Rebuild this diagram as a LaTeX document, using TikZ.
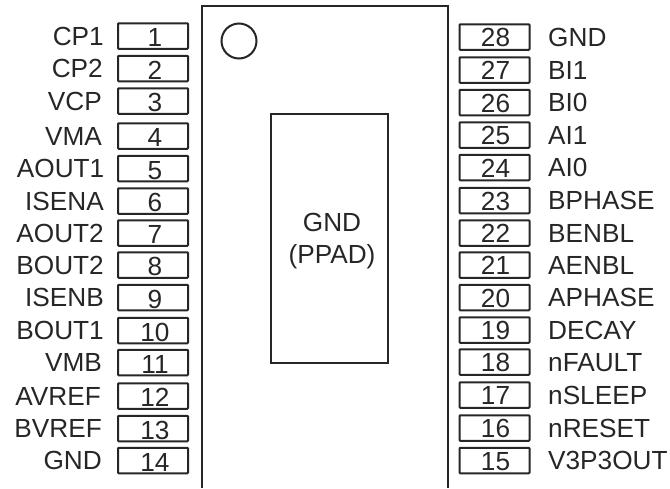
\documentclass[tikz,border=0pt]{standalone}
\usepackage{fontspec}
\setmainfont{Liberation Sans}
\usepackage{tikz}
\usetikzlibrary{positioning}

\begin{document}
\begin{tikzpicture}[
		x=1pt, y=-1pt,
		every node/.style={font=\fontsize{26.2}{28}\selectfont, text=black!85, text height=18.4pt, text depth=0pt, inner sep=0pt},
		pinbox/.style={draw=black!85, line width=2pt, rounded corners=0.8pt, minimum width=70pt, minimum height=25.5pt},
		pinleft/.style={pinbox, text height=21.4pt, execute at begin node=\hspace{4pt}},
		pinright/.style={pinbox, text height=19.6pt, execute at begin node=\hspace{2pt}},
		leftlabel/.style={anchor=east},
		rightlabel/.style={anchor=west},
		chipline/.style={draw=black!85, line width=2pt}
		]
	\useasboundingbox (0,0) rectangle (670,488);

		% --- Boitier ---
		\coordinate (CHa) at (202,488);
		\coordinate (CHb) at (202,6);
		\coordinate (CHc) at (448,6);
		\coordinate (CHd) at (448,488);
		\draw[chipline] (CHa) -- (CHb) -- (CHc) -- (CHd);
		\node[chipline, circle, minimum size=35pt] (DOT) at (239,41) {};
		\node[chipline, minimum width=117pt, minimum height=249pt] (PAD) at (329.5,238.5) {};
		\node (GND) at (332,222) {GND};
		\node (PPAD) at (332,254) {(PPAD)};

		% --- Broches a gauche ---
		\node[pinleft] (P1) at (153,36) {1};
		\node[pinleft] (P2) at (153,68.5) {2};
		\node[pinleft] (P3) at (153,101) {3};
		\node[pinleft] (P4) at (153,136) {4};
		\node[pinleft] (P5) at (153,168.5) {5};
		\node[pinleft] (P6) at (153,201) {6};
		\node[pinleft] (P7) at (153,233) {7};
		\node[pinleft] (P8) at (153,265) {8};
		\node[pinleft] (P9) at (153,297.5) {9};
		\node[pinleft] (P10) at (153,330.5) {10};
		\node[pinleft] (P11) at (153,362.5) {11};
		\node[pinleft] (P12) at (153,396) {12};
		\node[pinleft] (P13) at (153,428.5) {13};
		\node[pinleft] (P14) at (153,460.5) {14};

		\node[leftlabel] (CP1) at (104,36) {CP1};
		\node[leftlabel] (CP2) at (103,68.5) {CP2};
		\node[leftlabel] (VCP) at (102,101) {VCP};
		\node[leftlabel] (VMA) at (102,136) {VMA};
		\node[leftlabel] (AOUT1) at (104.5,168.5) {AOUT1};
		\node[leftlabel] (ISENA) at (104,201) {ISENA};
		\node[leftlabel] (AOUT2) at (104,233) {AOUT2};
		\node[leftlabel] (BOUT2) at (104,265) {BOUT2};
		\node[leftlabel] (ISENB) at (104,297.5) {ISENB};
		\node[leftlabel] (BOUT1) at (104,330.5) {BOUT1};
		\node[leftlabel] (VMB) at (102,362.5) {VMB};
		\node[leftlabel] (AVREF) at (101,396) {AVREF};
		\node[leftlabel] (BVREF) at (102,428.5) {BVREF};
		\node[leftlabel] (GNDL) at (102,460.5) {GND};

		% --- Broches a droite ---
		\node[pinright] (P28) at (494.5,37) {28};
		\node[pinright] (P27) at (494.5,70) {27};
		\node[pinright] (P26) at (494.5,102.5) {26};
		\node[pinright] (P25) at (494.5,135) {25};
		\node[pinright] (P24) at (494.5,167.5) {24};
		\node[pinright] (P23) at (494.5,200.5) {23};
		\node[pinright] (P22) at (494.5,233) {22};
		\node[pinright] (P21) at (494.5,265) {21};
		\node[pinright] (P20) at (494.5,297.5) {20};
		\node[pinright] (P19) at (494.5,330) {19};
		\node[pinright] (P18) at (494.5,362) {18};
		\node[pinright] (P17) at (494.5,395) {17};
		\node[pinright] (P16) at (494.5,428) {16};
		\node[pinright] (P15) at (494.5,460.5) {15};

		\node[rightlabel] (GNDR) at (548,37) {GND};
		\node[rightlabel] (BI1) at (548,70) {BI1};
		\node[rightlabel] (BI0) at (548,102.5) {BI0};
		\node[rightlabel] (AI1) at (548,135) {AI1};
		\node[rightlabel] (AI0) at (548,167.5) {AI0};
		\node[rightlabel] (BPHASE) at (548,200.5) {BPHASE};
		\node[rightlabel] (BENBL) at (548,233) {BENBL};
		\node[rightlabel] (AENBL) at (548,265) {AENBL};
		\node[rightlabel] (APHASE) at (548,297.5) {APHASE};
		\node[rightlabel] (DECAY) at (548,330) {DECAY};
		\node[rightlabel] (NFAULT) at (548,362) {nFAULT};
		\node[rightlabel] (NSLEEP) at (548,395) {nSLEEP};
		\node[rightlabel] (NRESET) at (548,428) {nRESET};
		\node[rightlabel] (V3P3OUT) at (548,460.5) {V3P3OUT};

	\end{tikzpicture}
\end{document}
